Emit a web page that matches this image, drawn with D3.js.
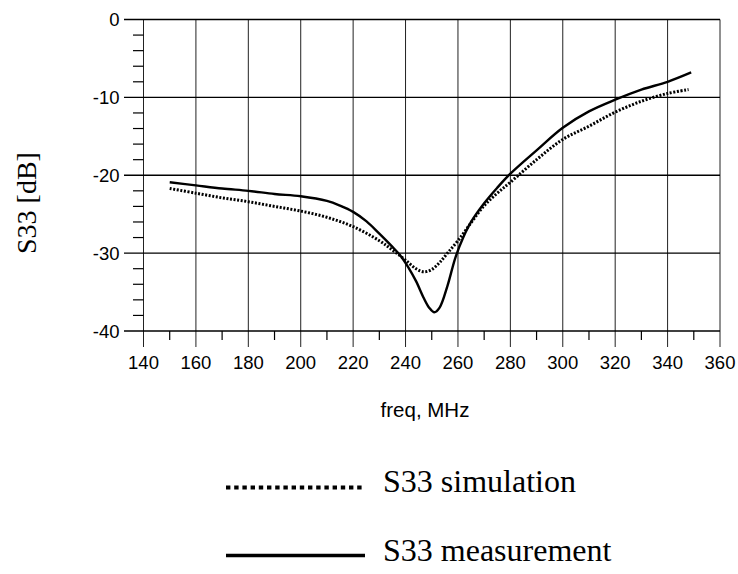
<!DOCTYPE html>
<html><head><meta charset="utf-8">
<script src="https://cdn.jsdelivr.net/npm/d3@7"></script>
<style>body{margin:0;background:#fff}</style></head>
<body><svg id="c" width="738" height="574"></svg>
<script>
const xTicks = [140,160,180,200,220,240,260,280,300,320,340,360];
const yTicks = [0,-10,-20,-30,-40];
const simFreq = [150,160,170,180,190,200,210,220,230,235,240,244,247,250,253,256,260,265,270,275,280,290,300,310,320,330,340,348];
const simDb   = [-21.7,-22.3,-22.9,-23.4,-24.0,-24.6,-25.4,-26.6,-28.4,-29.6,-30.9,-32.0,-32.4,-32.1,-31.2,-30.0,-28.4,-26.1,-23.9,-22.3,-20.9,-18.0,-15.4,-13.7,-11.9,-10.5,-9.5,-9.0];
const measFreq = [150,160,170,180,190,200,210,215,220,225,230,235,238,241,244,247,249,251,253,256,259,262,265,270,275,280,290,300,310,320,330,340,349];
const measDb   = [-20.9,-21.3,-21.7,-22.0,-22.4,-22.7,-23.3,-23.9,-24.7,-25.9,-27.5,-29.2,-30.3,-31.8,-33.6,-35.8,-37.0,-37.6,-37.0,-34.2,-30.6,-28.0,-26.0,-23.6,-21.6,-19.8,-16.8,-13.9,-11.8,-10.3,-9.0,-8.0,-6.8];

const svg = d3.select("#c");
const x = d3.scaleLinear().domain([140,360]).range([143.5,720]);
const y = d3.scaleLinear().domain([0,-40]).range([19.5,331]);
const g = svg.append("g");
const sans = "Liberation Sans, Arial, sans-serif";
const serif = "Liberation Serif, Times New Roman, serif";

// vertical gridlines
g.selectAll(".vg").data(xTicks).enter().append("line")
  .attr("x1",d=>x(d)).attr("x2",d=>x(d)).attr("y1",y(0)).attr("y2",y(-40)+16)
  .attr("stroke","#222").attr("stroke-width",1);
// horizontal gridlines
g.selectAll(".hg").data(yTicks).enter().append("line")
  .attr("x1",124).attr("x2",x(360)).attr("y1",d=>y(d)).attr("y2",d=>y(d))
  .attr("stroke","#000").attr("stroke-width",1.4);
// minor y ticks
const yMinor = d3.range(0,-40,-2).filter(v=>v%10!==0);
g.selectAll(".ym").data(yMinor).enter().append("line")
  .attr("x1",133).attr("x2",x(140)).attr("y1",d=>y(d)).attr("y2",d=>y(d))
  .attr("stroke","#000").attr("stroke-width",1.2);
// minor x ticks
const xMinor = d3.range(150,360,20);
g.selectAll(".xm").data(xMinor).enter().append("line")
  .attr("x1",d=>x(d)).attr("x2",d=>x(d)).attr("y1",y(-40)).attr("y2",y(-40)+9)
  .attr("stroke","#000").attr("stroke-width",1.2);

// tick labels
g.selectAll(".yl").data(yTicks).enter().append("text")
  .attr("x",119.5).attr("y",d=>y(d)+6.5).attr("text-anchor","end")
  .attr("font-family",sans).attr("font-size",18.5)
  .text(d=>d);
g.selectAll(".xl").data(xTicks).enter().append("text")
  .attr("x",d=>x(d)).attr("y",369).attr("text-anchor","middle")
  .attr("font-family",sans).attr("font-size",18.5)
  .text(d=>d);

// axis titles
svg.append("text").attr("x",425).attr("y",417).attr("text-anchor","middle")
  .attr("font-family",sans).attr("font-size",20.5)
  .text("freq, MHz");
svg.append("text").attr("transform","translate(36,203) rotate(-90)").attr("text-anchor","middle")
  .attr("font-family",serif).attr("font-size",28)
  .text("S33 [dB]");

// curves
const line = d3.line().x(d=>x(d[0])).y(d=>y(d[1])).curve(d3.curveCatmullRom.alpha(0.5));
svg.append("path").datum(d3.zip(simFreq,simDb)).attr("d",line)
  .attr("fill","none").attr("stroke","#000").attr("stroke-width",3).attr("stroke-dasharray","2,1.6");
svg.append("path").datum(d3.zip(measFreq,measDb)).attr("d",line)
  .attr("fill","none").attr("stroke","#000").attr("stroke-width",2.4);

// legend
svg.append("line").attr("x1",226).attr("x2",365).attr("y1",487.5).attr("y2",487.5)
  .attr("stroke","#000").attr("stroke-width",4).attr("stroke-dasharray","4.4,3.8");
svg.append("text").attr("x",383).attr("y",492)
  .attr("font-family",serif).attr("font-size",32)
  .text("S33 simulation");
svg.append("line").attr("x1",226).attr("x2",365).attr("y1",555.5).attr("y2",555.5)
  .attr("stroke","#000").attr("stroke-width",3.6);
svg.append("text").attr("x",383).attr("y",561)
  .attr("font-family",serif).attr("font-size",32)
  .text("S33 measurement");
</script></body></html>
